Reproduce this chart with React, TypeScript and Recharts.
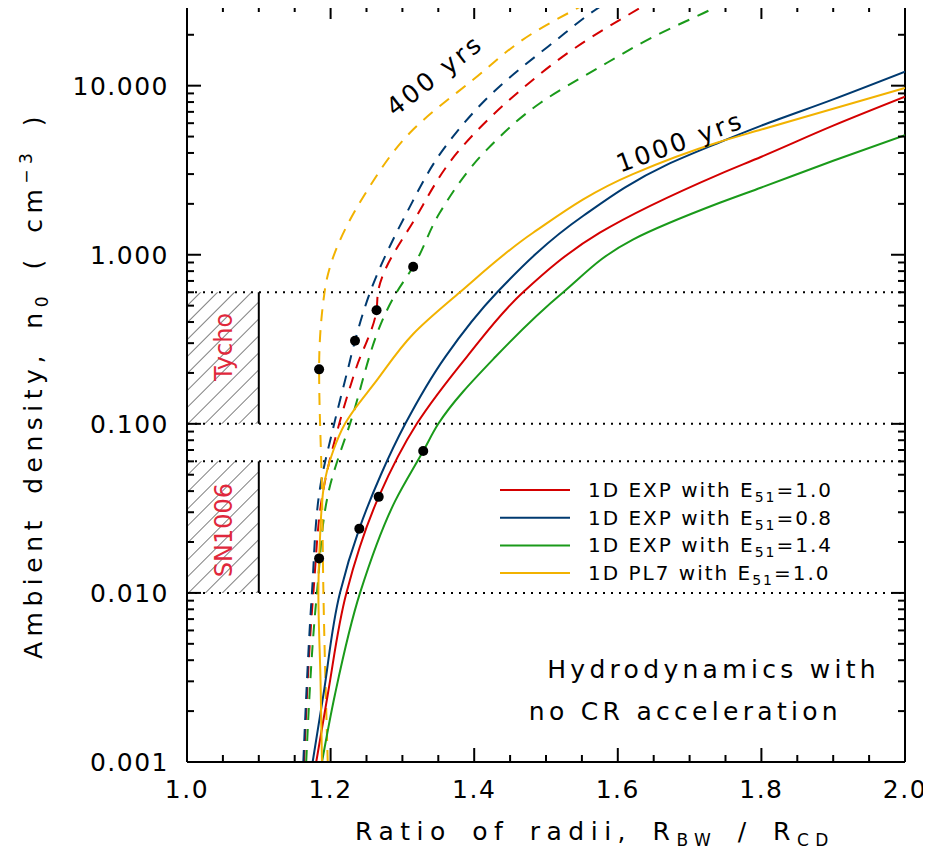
import React from 'react';
import { ComposedChart, Line, Scatter, XAxis, YAxis, ReferenceLine, ReferenceArea } from 'recharts';

// [ratio of radii, ambient density] -- 1000 yrs (solid)
const exp10Solid = [[1.18, 0.001], [1.196, 0.0025], [1.222, 0.01], [1.267, 0.037], [1.32, 0.1], [1.39, 0.25], [1.468, 0.6], [1.575, 1.35], [1.742, 3.0], [1.8, 3.8], [1.9, 5.8], [2.0, 8.6]];
const exp08Solid = [[1.175, 0.001], [1.19, 0.0025], [1.213, 0.01], [1.24, 0.024], [1.27, 0.05], [1.304, 0.1], [1.36, 0.25], [1.432, 0.6], [1.552, 1.7], [1.668, 3.4], [1.738, 4.55], [1.8, 5.8], [1.9, 8.3], [2.0, 12.1]];
const exp14Solid = [[1.188, 0.001], [1.206, 0.0025], [1.241, 0.01], [1.29, 0.035], [1.329, 0.069], [1.35, 0.1], [1.43, 0.25], [1.524, 0.6], [1.621, 1.23], [1.742, 2.03], [1.8, 2.5], [1.9, 3.6], [2.0, 5.1]];
const pl7Solid = [[1.188, 0.001], [1.186, 0.003], [1.183, 0.01], [1.185, 0.02], [1.19, 0.041], [1.204, 0.07], [1.22, 0.1], [1.264, 0.18], [1.315, 0.34], [1.38, 0.6], [1.482, 1.35], [1.621, 3.0], [1.738, 4.6], [1.8, 5.5], [1.9, 7.3], [2.0, 9.7]];

// 400 yrs (dashed)
const exp10Dash = [[1.163, 0.001], [1.176, 0.01], [1.19, 0.041], [1.212, 0.1], [1.235, 0.21], [1.264, 0.47], [1.266, 0.6], [1.32, 1.7], [1.376, 4.0], [1.454, 8.6], [1.543, 17], [1.638, 30], [1.66, 34]];
const exp08Dash = [[1.162, 0.001], [1.174, 0.01], [1.185, 0.041], [1.205, 0.1], [1.224, 0.21], [1.234, 0.31], [1.255, 0.6], [1.306, 1.77], [1.357, 4.2], [1.426, 9.1], [1.51, 18], [1.579, 30], [1.6, 34]];
const exp14Dash = [[1.166, 0.001], [1.181, 0.01], [1.198, 0.041], [1.227, 0.1], [1.292, 0.6], [1.315, 0.85], [1.352, 1.77], [1.418, 4.2], [1.492, 7.9], [1.575, 12.9], [1.649, 19.4], [1.742, 30], [1.76, 33]];
const pl7Dash = [[1.196, 0.001], [1.19, 0.01], [1.188, 0.04], [1.184, 0.21], [1.192, 0.62], [1.251, 2.4], [1.315, 5.5], [1.398, 10.8], [1.482, 20.5], [1.552, 30], [1.57, 33]];

const dots = [[1.184, 0.21], [1.234, 0.31], [1.264, 0.47], [1.315, 0.85], [1.184, 0.016], [1.24, 0.024], [1.267, 0.037], [1.329, 0.069]];

const yMajor = [0.001, 0.01, 0.1, 1, 10];
const yLabels = ['0.001', '0.010', '0.100', '1.000', '10.000'];
const xMajor = [1.0, 1.2, 1.4, 1.6, 1.8, 2.0];
const xLabels = ['1.0', '1.2', '1.4', '1.6', '1.8', '2.0'];
const limits = [0.6, 0.1, 0.06, 0.01];

const legendItems = [
  { name: '1D EXP with E', val: '=1.0', color: '#d40000' },
  { name: '1D EXP with E', val: '=0.8', color: '#003a70' },
  { name: '1D EXP with E', val: '=1.4', color: '#1a9a1a' },
  { name: '1D PL7 with E', val: '=1.0', color: '#f2b200' },
];

const toPts = (a: number[][]) => a.map(([x, y]) => ({ x, y }));

const yTicks: number[] = [];
[0.001, 0.01, 0.1, 1, 10].forEach((d) => {
  for (let k = 1; k <= 9; k++) if (d * k <= 30) yTicks.push(+(d * k).toPrecision(3));
});
const xTicks: number[] = [];
for (let i = 1; i < 20; i++) xTicks.push(+(1 + i * 0.05).toFixed(2));

const font = 'DejaVu Sans, sans-serif';
const isMajorY = (v: number) => yMajor.some((m) => Math.abs(m - v) < m * 1e-6);
const isMajorX = (v: number) => xMajor.some((m) => Math.abs(m - v) < 1e-6);

// plot box (matches chart margins + axis sizes below)
const box = { left: 187, right: 905, top: 5, bottom: 762 };
const sx = (v: number) => box.left + (v - 1) * (box.right - box.left);
const sy = (v: number) =>
  box.bottom - ((Math.log10(v) + 3) / (Math.log10(30) + 3)) * (box.bottom - box.top);

const Dot = (props: any) => <circle cx={props.cx} cy={props.cy} r={5} fill="#000" />;

export default function App() {
  const colors = ['#d40000', '#003a70', '#1a9a1a', '#f2b200'];
  const solids = [exp10Solid, exp08Solid, exp14Solid, pl7Solid];
  const dashes = [exp10Dash, exp08Dash, exp14Dash, pl7Dash];
  const tickStyle = { fontSize: 25, fill: '#000', fontFamily: font, letterSpacing: 1.5 };
  const ax = { xAxisId: 'b', yAxisId: 'l' };

  return (
    <div style={{ position: 'relative', width: 931, height: 861, margin: -8, background: '#fff' }}>
      <ComposedChart width={931} height={861} margin={{ top: 5, right: 26, bottom: 54, left: 87 }}>
        <defs>
          <pattern id="hatch" patternUnits="userSpaceOnUse" width="12" height="12" patternTransform="rotate(45)">
            <line x1="0" y1="0" x2="0" y2="12" stroke="#000" strokeWidth={1} />
          </pattern>
        </defs>
        <XAxis xAxisId="b" type="number" dataKey="x" domain={[1, 2]} ticks={xMajor} interval={0} tickLine={false} tickMargin={12}
          tickFormatter={(v: number) => xLabels[xMajor.findIndex((m) => Math.abs(m - v) < 1e-6)]}
          tick={tickStyle} axisLine={{ stroke: '#000', strokeWidth: 2 }} height={45} allowDataOverflow />
        <YAxis yAxisId="l" type="number" scale="log" domain={[0.001, 30]} ticks={yMajor} interval={0} tickLine={false} tickMargin={12}
          tickFormatter={(v: number) => yLabels[yMajor.findIndex((m) => Math.abs(m - v) < m * 1e-6)]}
          tick={tickStyle} axisLine={{ stroke: '#000', strokeWidth: 2 }} width={100} allowDataOverflow />
        <ReferenceArea {...ax} x1={1} x2={1.1} y1={0.1} y2={0.6} fill="url(#hatch)" fillOpacity={1} />
        <ReferenceArea {...ax} x1={1} x2={1.1} y1={0.01} y2={0.06} fill="url(#hatch)" fillOpacity={1} />
        <ReferenceLine {...ax} segment={[{ x: 1.1, y: 0.1 }, { x: 1.1, y: 0.6 }]} stroke="#000" strokeWidth={2} />
        <ReferenceLine {...ax} segment={[{ x: 1.1, y: 0.01 }, { x: 1.1, y: 0.06 }]} stroke="#000" strokeWidth={2} />
        {limits.map((v) => (
          <ReferenceLine key={v} {...ax} y={v} stroke="#000" strokeWidth={2} strokeDasharray="2 6" />
        ))}
        <ReferenceLine {...ax} y={30} stroke="#000" strokeWidth={2} />
        <ReferenceLine {...ax} x={2} stroke="#000" strokeWidth={2} />
        {dashes.map((d, i) => (
          <Line key={'d' + i} {...ax} data={toPts(d)} dataKey="y" type="monotoneY" stroke={colors[i]}
            strokeWidth={2} strokeDasharray="12 9" dot={false} isAnimationActive={false} />
        ))}
        {solids.map((d, i) => (
          <Line key={'s' + i} {...ax} data={toPts(d)} dataKey="y" type="monotoneY" stroke={colors[i]}
            strokeWidth={2} dot={false} isAnimationActive={false} />
        ))}
        <Scatter {...ax} data={toPts(dots)} dataKey="y" shape={Dot} isAnimationActive={false} />
      </ComposedChart>
      <svg width={931} height={861} style={{ position: 'absolute', left: 0, top: 0, pointerEvents: 'none' }} fontFamily={font}>
        {/* inward tick marks on all four sides */}
        <g stroke="#000" strokeWidth={2}>
          {yTicks.map((v) => {
            const len = isMajorY(v) ? 14 : 7;
            const y = sy(v);
            return (
              <g key={'y' + v}>
                <line x1={box.left} x2={box.left + len} y1={y} y2={y} />
                <line x1={box.right - len} x2={box.right} y1={y} y2={y} />
              </g>
            );
          })}
          {xTicks.map((v) => {
            const len = isMajorX(v) ? 14 : 7;
            const x = sx(v);
            return (
              <g key={'x' + v}>
                <line x1={x} x2={x} y1={box.bottom} y2={box.bottom - len} />
                <line x1={x} x2={x} y1={box.top} y2={box.top + len} />
              </g>
            );
          })}
        </g>
        <text transform="translate(42,385) rotate(-90)" textAnchor="middle" fontSize={25} letterSpacing={5.5} wordSpacing={8}>
          Ambient density, n<tspan fontSize={17} dy={6}>0</tspan><tspan dy={-6}> ( cm</tspan>
          <tspan fontSize={17} dy={-10}>−3</tspan><tspan dy={10}> )</tspan>
        </text>
        <text x={595} y={840} textAnchor="middle" fontSize={25} letterSpacing={6.5} wordSpacing={6}>
          Ratio of radii, R<tspan fontSize={17} dy={6}>BW</tspan><tspan dy={-6}> / R</tspan>
          <tspan fontSize={17} dy={6}>CD</tspan>
        </text>
        <text transform="translate(232,347) rotate(-90)" textAnchor="middle" fontSize={24} fill="#e0283c">Tycho</text>
        <text transform="translate(232,530) rotate(-90)" textAnchor="middle" fontSize={24} fill="#e0283c">SN1006</text>
        <text transform="translate(440,82) rotate(-38)" textAnchor="middle" fontSize={25} letterSpacing={3}>400 yrs</text>
        <text transform="translate(683,150) rotate(-20)" textAnchor="middle" fontSize={25} letterSpacing={3}>1000 yrs</text>
        {legendItems.map((it, i) => (
          <g key={i}>
            <line x1={500} x2={570} y1={490 + i * 27.7} y2={490 + i * 27.7} stroke={it.color} strokeWidth={2} />
            <text x={588} y={497 + i * 27.7} fontSize={20} letterSpacing={2}>
              {it.name}<tspan fontSize={14} dy={5}>51</tspan><tspan dy={-5}>{it.val}</tspan>
            </text>
          </g>
        ))}
        <text x={880} y={678} textAnchor="end" fontSize={25} letterSpacing={4.3}>Hydrodynamics with</text>
        <text x={842} y={720} textAnchor="end" fontSize={25} letterSpacing={4.3}>no CR acceleration</text>
      </svg>
    </div>
  );
}
